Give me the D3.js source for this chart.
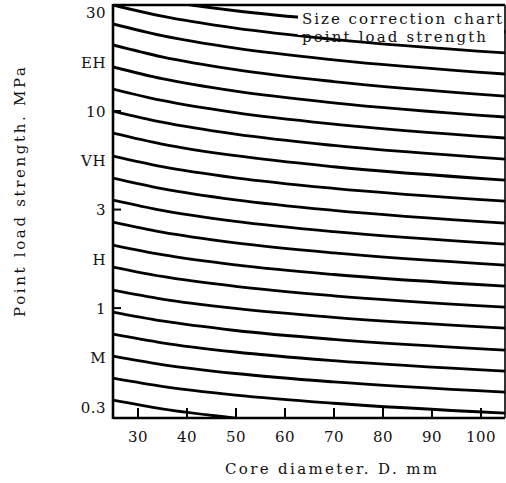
<!DOCTYPE html>
<html><head><meta charset="utf-8">
<script src="https://cdn.jsdelivr.net/npm/d3@7"></script>
<style>body{margin:0;background:#fff}svg{display:block}text{font-family:"DejaVu Serif","Liberation Serif",serif;fill:#111}</style>
</head><body><svg id="c" width="506" height="483"></svg>
<script>
// diameters (mm) at which each curve was read
const diameters = [25, 35, 50, 70, 105];
// point load strength (MPa) of each curve at those diameters, bottom curve first
const curves = [
  [0.3412, 0.3083, 0.2769, 0.2502, 0.2214],
  [0.4413, 0.4010, 0.3621, 0.3291, 0.2931],
  [0.5705, 0.5171, 0.4659, 0.4221, 0.3746],
  [0.7379, 0.6671, 0.5989, 0.5412, 0.4788],
  [0.9544, 0.8603, 0.7700, 0.6941, 0.6122],
  [1.234, 1.112, 0.9959, 0.8974, 0.7916],
  [1.615, 1.447, 1.289, 1.155, 1.012],
  [2.088, 1.866, 1.657, 1.481, 1.293],
  [2.732, 2.429, 2.144, 1.906, 1.653],
  [3.533, 3.133, 2.757, 2.444, 2.113],
  [4.570, 4.041, 3.544, 3.134, 2.701],
  [5.909, 5.225, 4.584, 4.054, 3.492],
  [7.731, 6.800, 5.930, 5.215, 4.464],
  [10.00, 8.770, 7.625, 6.688, 5.705],
  [12.93, 11.31, 9.806, 8.579, 7.295],
  [16.73, 14.59, 12.61, 11.00, 9.322],
  [21.63, 18.82, 16.22, 14.11, 11.91],
  [27.65, 24.12, 20.84, 18.18, 15.41],
  [34.52, 30.28, 26.33, 23.09, 19.70],
  [40.65, 36.35, 32.26, 28.84, 25.18]
];
const xTicks = [30, 40, 50, 60, 70, 80, 90, 100];
const yTickValues = [0.3162, 0.5623, 1, 1.778, 3.162, 5.623, 10, 17.78, 31.62];
const yTickLabels = ["0.3", "M", "1", "H", "3", "VH", "10", "EH", "30"];
const yTickMarks = [1, 3.162, 10];
const xTitle = "Core diameter. D. mm";
const yTitle = "Point load strength. MPa";
const boxLines = ["Size correction chart", "point load strength"];

const L = 113, R = 505, T = 5, B = 418;
const svg = d3.select("#c");
const x = d3.scaleLinear().domain([25, 105]).range([L, R]);
const y = d3.scaleLog().domain([0.277, 34.5]).range([B, T]);

svg.append("defs").append("clipPath").attr("id", "clip")
  .append("rect").attr("x", L).attr("y", T).attr("width", R - L).attr("height", B - T);

const line = d3.line().x(d => x(d[0])).y(d => y(d[1])).curve(d3.curveMonotoneX);
svg.append("g").attr("clip-path", "url(#clip)")
  .selectAll("path").data(curves).join("path")
  .attr("d", c => line(c.map((v, i) => [diameters[i], v])))
  .attr("fill", "none").attr("stroke", "#000").attr("stroke-width", 2.8);

// label area (masks the curve behind the caption)
svg.append("rect").attr("x", 298).attr("y", T + 1).attr("width", R - 299).attr("height", 29).attr("fill", "#fff");
boxLines.forEach((t, i) => {
  svg.append("text").attr("x", 302).attr("y", 24 + i * 18).attr("font-size", 15)
    .attr("textLength", i === 0 ? 200 : 184).attr("lengthAdjust", "spacing").text(t);
});

// x axis
const xa = svg.append("g").attr("transform", `translate(0,${B})`)
  .call(d3.axisBottom(x).tickValues(xTicks).tickSizeInner(-10).tickSizeOuter(0).tickPadding(13));
xa.select(".domain").remove();
xa.selectAll("line").attr("stroke", "#000").attr("stroke-width", 2);
xa.selectAll("text").attr("font-size", 15).attr("letter-spacing", 0.5).attr("fill", "#111")
  .attr("font-family", "DejaVu Serif");

// y axis
const ya = svg.append("g").attr("transform", `translate(${L},0)`)
  .call(d3.axisLeft(y).tickValues(yTickValues).tickFormat((d, i) => yTickLabels[i]).tickSize(0).tickPadding(7));
ya.select(".domain").remove();
ya.selectAll("text").attr("font-size", 15).attr("letter-spacing", 0.5).attr("fill", "#111")
  .attr("font-family", "DejaVu Serif").attr("dy", "0.36em");
svg.append("g").selectAll("line").data(yTickMarks).join("line")
  .attr("x1", L).attr("x2", L + 8).attr("y1", d => y(d)).attr("y2", d => y(d))
  .attr("stroke", "#000").attr("stroke-width", 2);

// frame
svg.append("line").attr("x1", L).attr("x2", L).attr("y1", T - 1).attr("y2", B + 1).attr("stroke", "#000").attr("stroke-width", 2.6);
svg.append("line").attr("x1", L).attr("x2", R).attr("y1", B).attr("y2", B).attr("stroke", "#000").attr("stroke-width", 2.4);
svg.append("line").attr("x1", L).attr("x2", R).attr("y1", T).attr("y2", T).attr("stroke", "#000").attr("stroke-width", 2.4);
svg.append("line").attr("x1", R).attr("x2", R).attr("y1", T).attr("y2", B).attr("stroke", "#000").attr("stroke-width", 1.6);

// titles
svg.append("text").attr("x", 331).attr("y", 474).attr("text-anchor", "middle").attr("font-size", 15)
  .attr("textLength", 212).attr("lengthAdjust", "spacing").text(xTitle);
svg.append("text").attr("transform", "translate(25,192) rotate(-90)").attr("text-anchor", "middle")
  .attr("font-size", 15).attr("textLength", 250).attr("lengthAdjust", "spacing").text(yTitle);
</script></body></html>
